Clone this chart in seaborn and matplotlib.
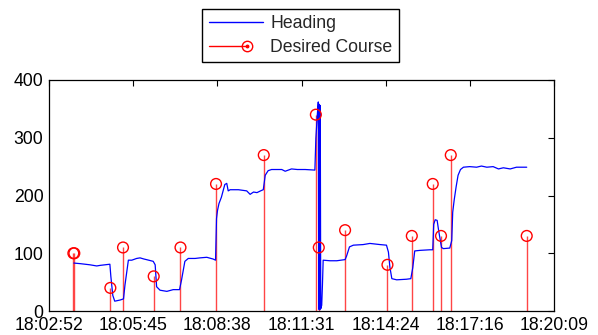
import numpy as np
import pandas as pd
import matplotlib
matplotlib.use("Agg")
import matplotlib.pyplot as plt
import seaborn as sns
from matplotlib.lines import Line2D
from matplotlib.legend_handler import HandlerBase

# ---- data (seconds after 18:02:52) ----
heading_t = [51, 64, 84, 98, 105, 115, 125, 127, 131, 135, 146, 153, 156, 163, 170, 180,
             187, 195, 200, 214, 218, 221, 228, 242, 255, 268, 272, 279, 286, 300, 310,
             324, 337, 342, 344, 346, 349, 354, 361, 365, 368, 372, 389, 406, 413, 420,
             427, 437, 440, 444, 450, 457, 478, 485, 498, 510, 526, 546, 548, 551, 553,
             554, 555, 556, 557, 558, 560, 561.5, 563, 577, 591, 608, 611, 617, 625, 645,
             659, 680, 693, 697, 700, 704, 714, 734, 743, 747, 751, 762, 782, 788, 790,
             793, 797, 800, 803, 806, 810, 823, 827, 829, 832, 836, 840, 845, 851, 864,
             878, 888, 899, 912, 923, 933, 947, 960, 981]
heading_v = [83, 82, 80, 78, 79, 80, 81, 60, 27, 17, 19, 21, 45, 88, 88, 91,
             92, 90, 89, 86, 80, 42, 36, 34, 37, 37, 53, 86, 91, 91, 92,
             93, 90, 88, 160, 174, 186, 197, 219, 221, 208, 210, 210, 208, 202, 206,
             205, 209, 210, 235, 243, 245, 245, 242, 246, 245, 245, 244, 299, 340, 362,
             3, 358, 2, 356, 4, 10, 45, 88, 87, 87, 89, 95, 111, 114, 115,
             117, 115, 114, 102, 76, 56, 54, 55, 56, 75, 104, 105, 106, 106, 150,
             158, 157, 140, 125, 110, 108, 109, 122, 171, 192, 215, 235, 245, 249, 250,
             249, 251, 249, 250, 246, 248, 246, 249, 249]

course_t = [50, 52, 126, 152, 215, 270, 343, 441, 548, 554, 608, 695, 745, 788, 805, 825, 981]
course_v = [100, 100, 40, 110, 60, 110, 220, 270, 340, 110, 140, 80, 130, 220, 130, 270, 130]

tick_labels = ["18:02:52", "18:05:45", "18:08:38", "18:11:31", "18:14:24", "18:17:16", "18:20:09"]
x_span = 1037
y_ticks = [0, 100, 200, 300, 400]

# ---- style ----
sns.set_style("white")
plt.rcParams['font.family'] = ['Liberation Sans', 'DejaVu Sans']
plt.rcParams['font.size'] = 12.7

fig = plt.figure(figsize=(5.98, 3.35), dpi=100)
ax = fig.add_axes([49 / 598, 24 / 335, 505 / 598, 231 / 335])

hd = pd.DataFrame({"t": heading_t, "v": heading_v})
cd = pd.DataFrame({"t": course_t, "v": course_v})

ax.vlines(cd["t"], 0, cd["v"], colors="#ff4545", lw=1.0, zorder=2)
sns.lineplot(data=hd, x="t", y="v", sort=False, estimator=None, color="#0000ff",
             lw=0.9, ax=ax, zorder=3)
sns.scatterplot(data=cd, x="t", y="v", marker="o", s=60, facecolors="none",
                edgecolors="#ff0000", linewidths=1.0, ax=ax, zorder=4)

ax.set_xlim(0, x_span)
ax.set_ylim(0, 400)
ax.set_xticks(np.linspace(0, x_span, len(tick_labels)))
ax.set_xticklabels(tick_labels)
ax.set_yticks(y_ticks)
ax.set_xlabel("")
ax.set_ylabel("")
ax.tick_params(direction="in", length=4, width=0.8, top=True, right=True,
               labelsize=12.7, colors="black")
ax.tick_params(axis="x", pad=4.5)
ax.tick_params(axis="y", pad=4)
for s in ax.spines.values():
    s.set_color("black")
    s.set_linewidth(0.9)
    s.set_visible(True)


class StemHandler(HandlerBase):
    def create_artists(self, legend, orig_handle, xdescent, ydescent, width, height,
                       fontsize, trans):
        y = (height - ydescent) / 2
        xm = -xdescent + 0.7 * width
        line = Line2D([-xdescent, xm], [y, y], color="red", lw=1)
        circ = Line2D([xm], [y], marker="o", mfc="none", mec="red", ms=7.5, ls="none", mew=1)
        dot = Line2D([xm], [y], marker="o", mfc="red", mec="red", ms=1.8, ls="none")
        for a in (line, circ, dot):
            a.set_transform(trans)
        return [line, circ, dot]


h_head = Line2D([], [], color="#0000ff", lw=1)
h_stem = Line2D([], [], color="red")
leg = ax.legend([h_head, h_stem], ["Heading", "Desired Course"],
                handler_map={h_stem: StemHandler()},
                loc="lower center", bbox_to_anchor=(0.498, 1.078),
                fancybox=False, framealpha=1, edgecolor="black", fontsize=12.7,
                handlelength=3.1, handletextpad=0.4, labelspacing=0.4,
                borderpad=0.35, borderaxespad=0)
leg.get_frame().set_linewidth(1.0)

fig.savefig("out.png", dpi=100, facecolor="white")
